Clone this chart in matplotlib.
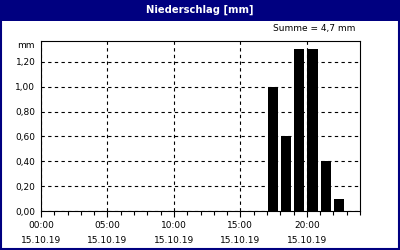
"""Niederschlag bar chart, hourly values for one day."""
import matplotlib
matplotlib.use('Agg')
import matplotlib.pyplot as plt
from matplotlib.patches import Rectangle
from matplotlib.ticker import FixedLocator, MultipleLocator

# data
hours = [17, 18, 19, 20, 21, 22]
values = [1.0, 0.6, 1.3, 1.3, 0.4, 0.1]
x_ticks = [0, 5, 10, 15, 20]
x_labels = ['00:00\n15.10.19', '05:00\n15.10.19', '10:00\n15.10.19',
            '15:00\n15.10.19', '20:00\n15.10.19']
y_ticks = [0.0, 0.2, 0.4, 0.6, 0.8, 1.0, 1.2]
title = 'Niederschlag [mm]'
unit = 'mm'

navy = '#000080'
plt.rcParams['font.family'] = 'DejaVu Sans'
plt.rcParams['font.size'] = 6.5

fig = plt.figure(figsize=(4, 2.5), dpi=100)
fig.patch.set_facecolor('white')

# title bar and frame
fig.patches.append(Rectangle((0, 0.918), 1, 0.082, transform=fig.transFigure,
                             facecolor=navy, edgecolor='none', zorder=0))
fig.patches.append(Rectangle((0.002, 0.004), 0.996, 0.994, transform=fig.transFigure,
                             facecolor='none', edgecolor=navy, linewidth=1.5, zorder=1))
fig.text(0.5, 0.959, title, color='white', fontweight='bold', fontsize=7.2,
         ha='center', va='center')

ax = fig.add_axes([0.1025, 0.156, 0.7975, 0.681])
ax.bar([h + 0.05 for h in hours], values, width=0.77, align='edge',
       color='black', zorder=3)

ax.set_xlim(0, 24)
ax.set_ylim(0, 1.37)
ax.xaxis.set_major_locator(FixedLocator(x_ticks))
ax.set_xticklabels(x_labels, linespacing=1.85)
ax.xaxis.set_minor_locator(MultipleLocator(1))
ax.set_yticks(y_ticks)
ax.set_yticklabels([f'{v:.2f}'.replace('.', ',') for v in y_ticks])

ax.tick_params(axis='x', which='major', direction='out', length=4, width=0.8, pad=3)
ax.tick_params(axis='x', which='minor', direction='out', length=3, width=0.8)
ax.tick_params(axis='y', length=0, pad=4)

ax.grid(True, which='major', color='black', linestyle=(0, (3, 3)), linewidth=0.8, zorder=1)
ax.set_axisbelow(True)
for s in ax.spines.values():
    s.set_linewidth(0.8)

ax.text(-0.02, 0.975, unit, transform=ax.transAxes, ha='right', va='center')
fig.text(0.888, 0.885, 'Summe = 4,7 mm', ha='right', va='center')

fig.savefig('out.png', dpi=100)
